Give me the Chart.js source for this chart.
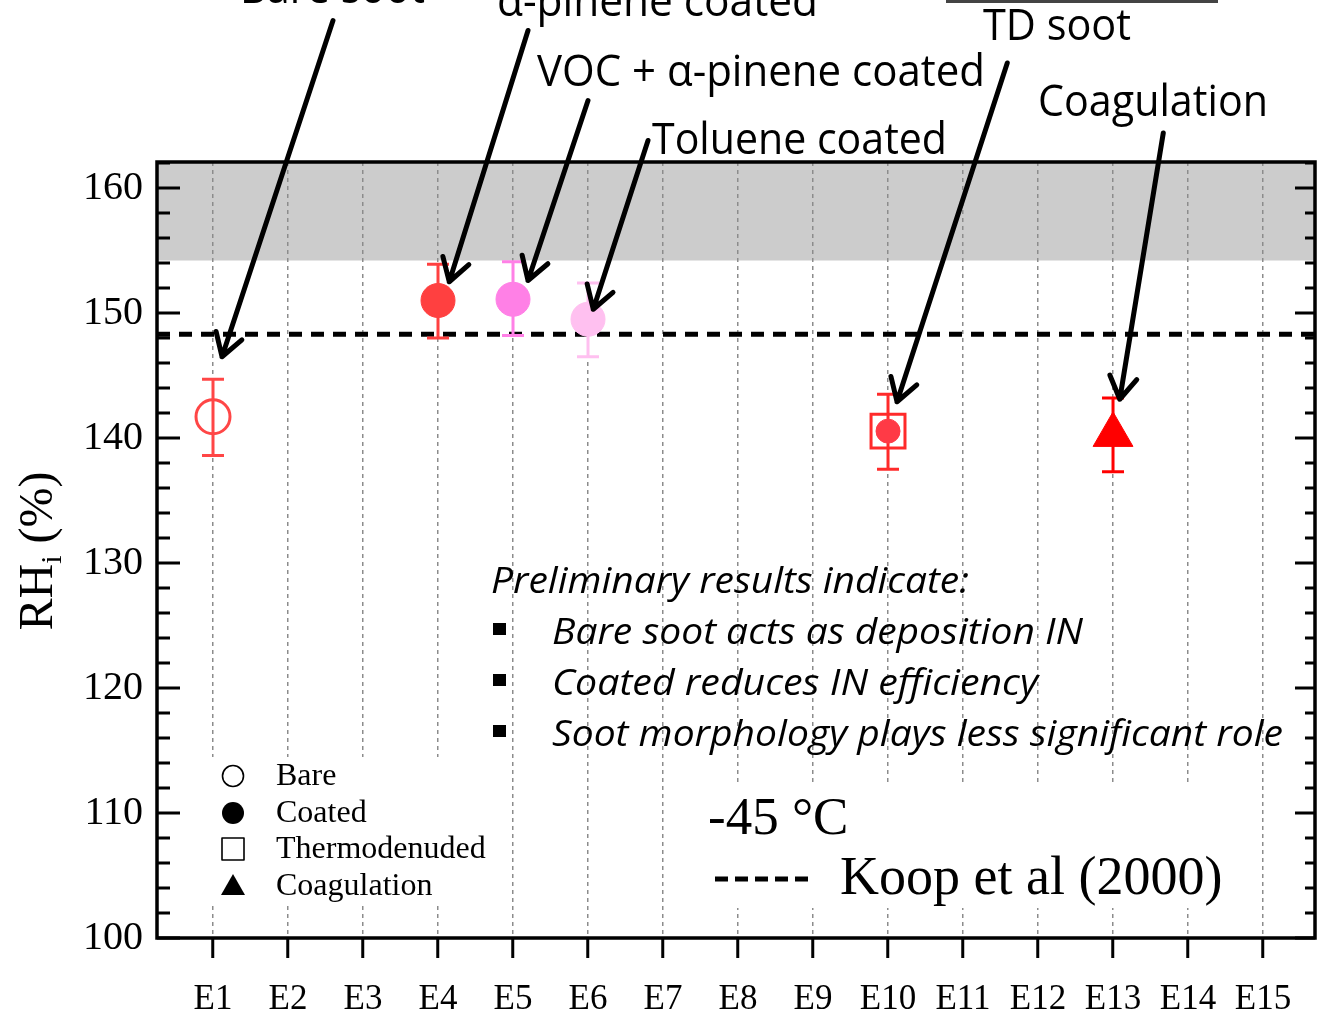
<!DOCTYPE html>
<html>
<head>
<meta charset="utf-8">
<script src="https://cdn.jsdelivr.net/npm/chart.js@4.4.0/dist/chart.umd.min.js"></script>
<style>
html, body { margin: 0; padding: 0; background: #fff; }
#wrap { width: 1317px; height: 1017px; }
canvas { display: block; }
</style>
</head>
<body>
<div id="wrap"><canvas id="chart"></canvas></div>
<script>
var categories = ['E1', 'E2', 'E3', 'E4', 'E5', 'E6', 'E7', 'E8', 'E9', 'E10', 'E11', 'E12', 'E13', 'E14', 'E15'];
var sampleIdx = [1, 4, 5, 6, 10, 13];
var rhMean = [141.7, 151.0, 151.1, 149.5, 140.55, 140.25];
var rhHigh = [144.7, 153.9, 154.1, 152.4, 143.5, 143.2];
var rhLow = [138.6, 148.0, 148.2, 146.5, 137.5, 137.3];
var sampleKind = ['bare', 'coated', 'coated', 'coated', 'td', 'coag'];
var sampleColor = ['#ff4646', '#ff4040', '#ff80e6', '#ffc0f0', '#ff2a2a', '#ff0000'];
var yTicks = [100, 110, 120, 130, 140, 150, 160];
var koopValue = 148.3;
var bandFrom = 154.2;

// arrows: tail -> tip, in data units (x = sample no, y = RHi)
var arrows = [
  [2.6, 173.4, 1.12, 146.5],
  [5.2, 172.6, 4.15, 152.5],
  [6.0, 167.0, 5.2, 152.6],
  [6.8, 163.8, 6.07, 150.3],
  [11.59, 170.0, 10.12, 142.9],
  [13.67, 164.4, 13.09, 143.1]
];
// annotation labels: text, left x, baseline y, width
var notes = [
  ['Bare soot', 240, 3, 185],
  ['\u03b1-pinene coated', 497, 16, 321],
  ['TD soot', 983, 40, 148],
  ['VOC + \u03b1-pinene coated', 537, 86, 448],
  ['Coagulation', 1038, 116, 230],
  ['Toluene coated', 652, 154, 295]
];
var bullets = ['Bare soot acts as deposition IN', 'Coated reduces IN efficiency', 'Soot morphology plays less significant role'];
var bulletWidths = [531, 486, 731];
var legendItems = ['Bare', 'Coated', 'Thermodenuded', 'Coagulation'];

var serif = "'Liberation Serif', 'Times New Roman', serif";
var sans = "'Open Sans', 'Noto Sans', sans-serif";

var datasets = sampleIdx.map(function (x, i) {
  var k = sampleKind[i];
  var hollow = (k == 'bare' || k == 'td');
  return {
    label: categories[x - 1],
    data: [{ x: x, y: rhMean[i] }],
    pointStyle: k == 'coag' ? 'triangle' : (k == 'td' ? 'rect' : 'circle'),
    pointRadius: k == 'td' ? 24 : (k == 'coag' ? 23 : 17),
    backgroundColor: hollow ? 'rgba(0,0,0,0)' : sampleColor[i],
    borderColor: sampleColor[i],
    borderWidth: hollow ? 3 : 1,
    errLow: rhLow[i],
    errHigh: rhHigh[i]
  };
});
// dot inside the thermodenuded square
datasets.push({
  label: 'TD core',
  data: [{ x: sampleIdx[4], y: rhMean[4] }],
  pointStyle: 'circle',
  pointRadius: 12,
  backgroundColor: '#ff3a46',
  borderColor: '#ff3a46',
  borderWidth: 1
});

function fitText(ctx, text, x, y, size, family, style, width) {
  ctx.save();
  ctx.font = style + ' ' + size + 'px ' + family;
  var w = ctx.measureText(text).width;
  ctx.translate(x, y);
  ctx.scale(width / w, 1);
  ctx.textAlign = 'left';
  ctx.textBaseline = 'alphabetic';
  ctx.fillText(text, 0, 0);
  ctx.restore();
}

function arrow(ctx, x1, y1, x2, y2) {
  var a = Math.atan2(y2 - y1, x2 - x1);
  var len = 26, spread = 0.55;
  ctx.beginPath();
  ctx.moveTo(x1, y1);
  ctx.lineTo(x2, y2);
  ctx.moveTo(x2 - len * Math.cos(a - spread), y2 - len * Math.sin(a - spread));
  ctx.lineTo(x2, y2);
  ctx.lineTo(x2 - len * Math.cos(a + spread), y2 - len * Math.sin(a + spread));
  ctx.stroke();
}

var decor = {
  id: 'decor',
  beforeDraw: function (chart) {
    var ctx = chart.ctx, a = chart.chartArea, ys = chart.scales.y;
    ctx.save();
    ctx.fillStyle = '#ffffff';
    ctx.fillRect(0, 0, chart.width, chart.height);
    ctx.fillStyle = '#cccccc';
    var top = ys.getPixelForValue(ys.max);
    ctx.fillRect(a.left, top, a.right - a.left, ys.getPixelForValue(bandFrom) - top);
    ctx.restore();
  },
  beforeDatasetsDraw: function (chart) {
    var ctx = chart.ctx, a = chart.chartArea, xs = chart.scales.x, ys = chart.scales.y;
    ctx.save();
    // white boxes behind legend blocks cut the grid lines
    ctx.fillStyle = '#ffffff';
    ctx.fillRect(195, 757, 300, 148);
    ctx.fillRect(700, 783, 535, 125);
    // Koop et al. line
    ctx.strokeStyle = '#000';
    ctx.lineWidth = 5;
    ctx.setLineDash([13, 9]);
    var ky = ys.getPixelForValue(koopValue);
    ctx.beginPath();
    ctx.moveTo(a.left, ky);
    ctx.lineTo(a.right, ky);
    ctx.stroke();
    ctx.setLineDash([]);
    // error bars
    chart.data.datasets.forEach(function (ds) {
      if (ds.errLow === undefined) return;
      var px = xs.getPixelForValue(ds.data[0].x);
      var p1 = ys.getPixelForValue(ds.errLow), p2 = ys.getPixelForValue(ds.errHigh);
      ctx.strokeStyle = ds.borderColor;
      ctx.lineWidth = 3;
      ctx.beginPath();
      ctx.moveTo(px, p1); ctx.lineTo(px, p2);
      ctx.moveTo(px - 11, p1); ctx.lineTo(px + 11, p1);
      ctx.moveTo(px - 11, p2); ctx.lineTo(px + 11, p2);
      ctx.stroke();
    });
    ctx.restore();
  },
  afterDraw: function (chart) {
    var ctx = chart.ctx, a = chart.chartArea, xs = chart.scales.x, ys = chart.scales.y;
    ctx.save();
    ctx.strokeStyle = '#000';
    ctx.fillStyle = '#000';
    // frame
    ctx.lineWidth = 3.5;
    ctx.strokeRect(a.left, a.top, a.right - a.left, a.bottom - a.top);
    // inward ticks left and right
    ctx.lineWidth = 3;
    ctx.beginPath();
    for (var v = 100; v <= ys.max; v += 2) {
      var py = ys.getPixelForValue(v);
      var len = (v % 10 == 0) ? 23 : 13;
      ctx.moveTo(a.left, py); ctx.lineTo(a.left + len, py);
      ctx.moveTo(a.right, py); ctx.lineTo(a.right - len + 3, py);
    }
    ctx.stroke();

    // y axis title RHi (%)
    ctx.save();
    ctx.translate(52, 551);
    ctx.rotate(-Math.PI / 2);
    ctx.textBaseline = 'alphabetic';
    ctx.font = '48px ' + serif;
    var w1 = ctx.measureText('RH').width;
    ctx.font = '30px ' + serif;
    var w2 = ctx.measureText('i').width;
    ctx.font = '48px ' + serif;
    var w3 = ctx.measureText(' (%)').width;
    var sx = -(w1 + w2 + w3) / 2;
    ctx.fillText('RH', sx, 0);
    ctx.font = '30px ' + serif;
    ctx.fillText('i', sx + w1, 9);
    ctx.font = '48px ' + serif;
    ctx.fillText(' (%)', sx + w1 + w2, 0);
    ctx.restore();

    // arrows
    ctx.lineWidth = 5;
    ctx.lineCap = 'round';
    ctx.lineJoin = 'round';
    arrows.forEach(function (r) {
      arrow(ctx, xs.getPixelForValue(r[0]), ys.getPixelForValue(r[1]),
        xs.getPixelForValue(r[2]), ys.getPixelForValue(r[3]));
    });
    ctx.lineCap = 'butt';

    // annotation labels
    notes.forEach(function (n) {
      fitText(ctx, n[0], n[1], n[2], 43, sans, '', n[3]);
    });
    ctx.strokeStyle = '#444';
    ctx.lineWidth = 3;
    ctx.beginPath();
    ctx.moveTo(946, 1.5); ctx.lineTo(1218, 1.5);
    ctx.stroke();

    // preliminary results block
    fitText(ctx, 'Preliminary results indicate:', 491, 593, 36, sans, 'italic', 478);
    bullets.forEach(function (b, i) {
      ctx.fillRect(493, 623 + i * 51, 13, 12);
      fitText(ctx, b, 552, 644 + i * 51, 36, sans, 'italic', bulletWidths[i]);
    });

    // marker legend
    ctx.strokeStyle = '#000';
    ctx.fillStyle = '#000';
    ctx.lineWidth = 1.6;
    var lx = 233;
    var rows = [776, 813, 849, 886];
    ctx.beginPath(); ctx.arc(lx, rows[0], 10.5, 0, Math.PI * 2); ctx.stroke();
    ctx.beginPath(); ctx.arc(lx, rows[1], 11, 0, Math.PI * 2); ctx.fill();
    ctx.strokeRect(lx - 11, rows[2] - 11, 22, 22);
    ctx.beginPath();
    ctx.moveTo(lx, rows[3] - 12); ctx.lineTo(lx + 12, rows[3] + 9); ctx.lineTo(lx - 12, rows[3] + 9);
    ctx.closePath(); ctx.fill();
    ctx.font = '32px ' + serif;
    ctx.textBaseline = 'middle';
    legendItems.forEach(function (t, i) {
      ctx.fillText(t, 276, rows[i] + 1);
    });

    // temperature and Koop legend
    ctx.textBaseline = 'alphabetic';
    ctx.font = '53px ' + serif;
    ctx.fillText('-45 \u00b0C', 708, 834);
    ctx.font = '54px ' + serif;
    ctx.fillText('Koop et al (2000)', 840, 894);
    ctx.lineWidth = 5;
    ctx.setLineDash([13, 7]);
    ctx.beginPath();
    ctx.moveTo(715, 879); ctx.lineTo(810, 879);
    ctx.stroke();
    ctx.setLineDash([]);
    ctx.restore();
  }
};

new Chart(document.getElementById('chart'), {
  type: 'scatter',
  data: { datasets: datasets },
  options: {
    responsive: true,
    maintainAspectRatio: false,
    animation: false,
    layout: { autoPadding: false, padding: { top: 162, right: 2, left: 0, bottom: 0 } },
    plugins: { legend: { display: false }, tooltip: { enabled: false } },
    scales: {
      x: {
        type: 'linear',
        min: 0.2533,
        max: 15.693,
        afterBuildTicks: function (s) {
          s.ticks = categories.map(function (c, i) { return { value: i + 1 }; });
        },
        afterFit: function (s) { s.height = 79; s.paddingLeft = 0; s.paddingRight = 0; },
        ticks: {
          autoSkip: false,
          maxRotation: 0,
          padding: 21,
          color: '#000',
          font: { family: serif, size: 35 },
          callback: function (v) { return categories[v - 1]; }
        },
        grid: {
          color: '#8c8c8c',
          lineWidth: 1.5,
          tickLength: 20,
          tickColor: '#000',
          tickWidth: 3,
          tickBorderDash: []
        },
        border: { display: false, dash: [4, 4] }
      },
      y: {
        min: 100,
        max: 162.08,
        afterBuildTicks: function (s) {
          s.ticks = yTicks.map(function (v) { return { value: v }; });
        },
        afterFit: function (s) { s.width = 157; s.paddingTop = 0; s.paddingBottom = 0; },
        ticks: { padding: 14, color: '#000', font: { family: serif, size: 40 } },
        grid: { display: false, drawTicks: false },
        border: { display: false }
      }
    }
  },
  plugins: [decor]
});
</script>
</body>
</html>
